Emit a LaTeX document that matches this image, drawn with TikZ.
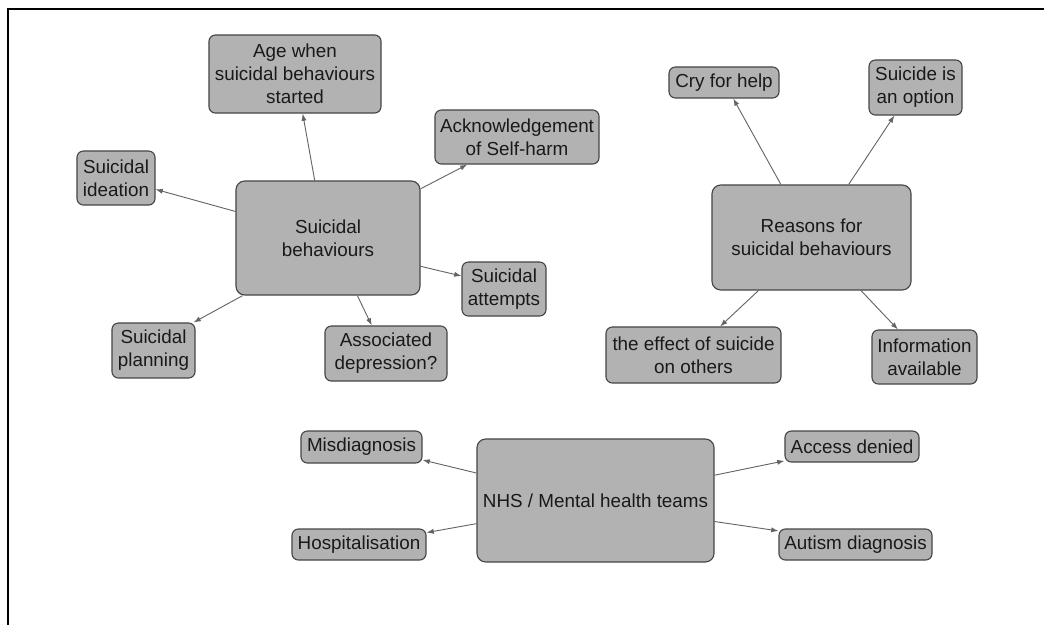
\documentclass[tikz,border=0pt]{standalone}
\usepackage{fontspec}
\setmainfont{Liberation Sans}
\usepackage{tikz}
\usetikzlibrary{arrows.meta}

\definecolor{boxfill}{RGB}{178,178,178}
\definecolor{boxline}{RGB}{70,70,70}
\definecolor{linkline}{RGB}{100,100,100}

\tikzset{
    item/.style={draw=boxline, fill=boxfill, line width=0.8pt, rounded corners=0.16cm,
        inner sep=0pt, align=center, text=black!90,
        font=\fontsize{13.4}{16.3}\selectfont},
    topic/.style={item, rounded corners=0.22cm},
    link/.style={draw=linkline, line width=0.65pt, -{Latex[length=1.8mm,width=1.3mm]}}
}

\begin{document}
\begin{tikzpicture}[x=0.025cm, y=-0.025cm]
    \useasboundingbox (0,0) rectangle (1044,625);
    % frame
    \draw [line width=1.1pt] (7,9) -- (1044,9);
    \draw [line width=1.1pt] (8,9) -- (8,625);

    % suicidal behaviours
    \node [topic, minimum width=4.6cm, minimum height=2.85cm] (behav) at (328,238) {Suicidal\\behaviours};
    \node [item, minimum width=4.3cm, minimum height=1.95cm] (age) at (295,74) {Age when\\suicidal behaviours\\started};
    \node [item, minimum width=4.1cm, minimum height=1.35cm] (ack) at (517,137) {Acknowledgement\\of Self-harm};
    \node [item, minimum width=1.95cm, minimum height=1.35cm] (ideation) at (116,178) {Suicidal\\ideation};
    \node [item, minimum width=2.1cm, minimum height=1.35cm] (attempts) at (504,289) {Suicidal\\attempts};
    \node [item, minimum width=2.075cm, minimum height=1.375cm] (planning) at (153.5,350.5) {Suicidal\\planning};
    \node [item, minimum width=3.05cm, minimum height=1.375cm] (depression) at (386,353.5) {Associated\\depression?};

    % reasons
    \node [topic, minimum width=4.975cm, minimum height=2.625cm] (reasons) at (811.5,237.5) {Reasons for\\suicidal behaviours};
    \node [item, minimum width=2.75cm, minimum height=0.775cm] (cry) at (724,82.5) {Cry for help};
    \node [item, minimum width=2.325cm, minimum height=1.375cm] (option) at (915.5,87.5) {Suicide is\\an option};
    \node [item, minimum width=4.375cm, minimum height=1.4cm] (effect) at (693.5,355) {the effect of suicide\\on others};
    \node [item, minimum width=2.625cm, minimum height=1.35cm] (info) at (924.5,357) {Information\\available};

    % NHS
    \node [topic, minimum width=5.925cm, minimum height=3.075cm] (nhs) at (595.5,500.5) {NHS / Mental health teams};
    \node [item, minimum width=3.025cm, minimum height=0.8cm] (misdiag) at (361.5,447) {Misdiagnosis};
    \node [item, minimum width=3.35cm, minimum height=0.775cm] (hosp) at (359,544.5) {Hospitalisation};
    \node [item, minimum width=3.35cm, minimum height=0.775cm] (access) at (852,446.5) {Access denied};
    \node [item, minimum width=3.825cm, minimum height=0.775cm] (autism) at (855.5,544.5) {Autism diagnosis};

    \draw [link] (behav.103) -- (age.281);
    \draw [link] (behav.164) -- (ideation.344);
    \draw [link] (behav.28) -- (ack.209);
    \draw [link] (behav.343) -- (attempts.163);
    \draw [link] (behav.214) -- (planning.35);
    \draw [link] (behav.297) -- (depression.117);

    \draw [link] (reasons.120) -- (cry.300);
    \draw [link] (reasons.55) -- (option.233);
    \draw [link] (reasons.225) -- (effect.47);
    \draw [link] (reasons.313) -- (info.134);

    \draw [link] (nhs.167) -- (misdiag.348);
    \draw [link] (nhs.191) -- (hosp.10);
    \draw [link] (nhs.12) -- (access.192);
    \draw [link] (nhs.350) -- (autism.170);
\end{tikzpicture}
\end{document}
